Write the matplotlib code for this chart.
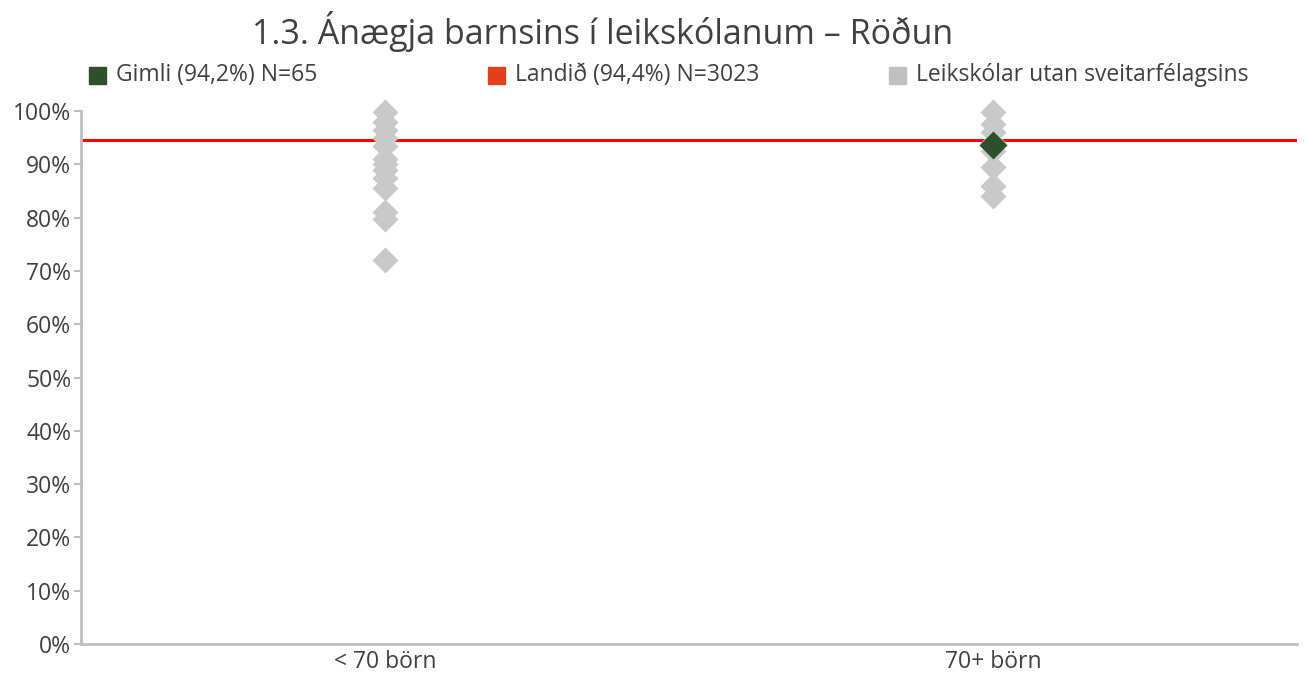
import numpy as np
import matplotlib.pyplot as plt
from matplotlib.patches import Rectangle

# data
categories = ['< 70 börn', '70+ börn']
other_small = [99.8, 98.0, 96.5, 95.0, 93.5, 91.0, 90.0, 89.0, 87.5, 85.5, 81.0, 79.8, 72.0]
other_large = [99.8, 97.5, 96.0, 94.0, 92.5, 89.5, 86.0, 84.0]
gimli_cat = 1
gimli_value = 93.6
national_value = 94.5
legend_labels = ['Gimli (94,2%) N=65', 'Landið (94,4%) N=3023', 'Leikskólar utan sveitarfélagsins']
yticks = np.arange(0, 101, 10)

txt = '#404040'
gray = '#C9C9C9'
green = '#2F4F2C'
red = '#FF0000'

plt.rcParams['font.family'] = ['Open Sans', 'DejaVu Sans']

fig = plt.figure(figsize=(13.06, 6.73), dpi=100)
ax = fig.add_axes([0.062, 0.0431, 0.931, 0.7919])

pos = [0.5, 1.5]
ax.axhline(national_value, color=red, lw=2.2, zorder=2)
ax.plot([pos[0]] * len(other_small), other_small, 'D', ms=13, color=gray, mec='none', clip_on=False, zorder=3)
ax.plot([pos[1]] * len(other_large), other_large, 'D', ms=13, color=gray, mec='none', clip_on=False, zorder=3)
ax.plot([pos[gimli_cat]], [gimli_value], 'D', ms=14, color=green, mec='none', clip_on=False, zorder=4)

ax.set_xlim(0, 2)
ax.set_ylim(0, 100)
ax.set_xticks(pos)
ax.set_xticklabels(categories)
ax.set_yticks(yticks)
ax.set_yticklabels([f'{v}%' for v in yticks])
ax.tick_params(axis='x', length=0, labelsize=16.5, labelcolor=txt, pad=4)
ax.tick_params(axis='y', length=5, width=1.5, color='#BFBFBF', labelsize=16.5, labelcolor=txt, pad=2)

for s in ['top', 'right']:
    ax.spines[s].set_visible(False)
for s in ['left', 'bottom']:
    ax.spines[s].set_color('#BFBFBF')
    ax.spines[s].set_linewidth(2)

fig.text(0.461, 0.953, '1.3. Ánægja barnsins í leikskólanum – Röðun', ha='center', va='center',
         fontsize=24.5, color=txt)

# legend
leg_colors = [green, '#E0401A', '#C0C0C0']
leg_x = [89, 488, 889]
for x, c, lab in zip(leg_x, leg_colors, legend_labels):
    fig.add_artist(Rectangle((x / 1306, 1 - 84 / 673), 17 / 1306, 17 / 673, color=c, transform=fig.transFigure))
    fig.text((x + 27) / 1306, 1 - 75 / 673, lab, ha='left', va='center', fontsize=16.5, color=txt)

fig.savefig('out.png', dpi=100)
